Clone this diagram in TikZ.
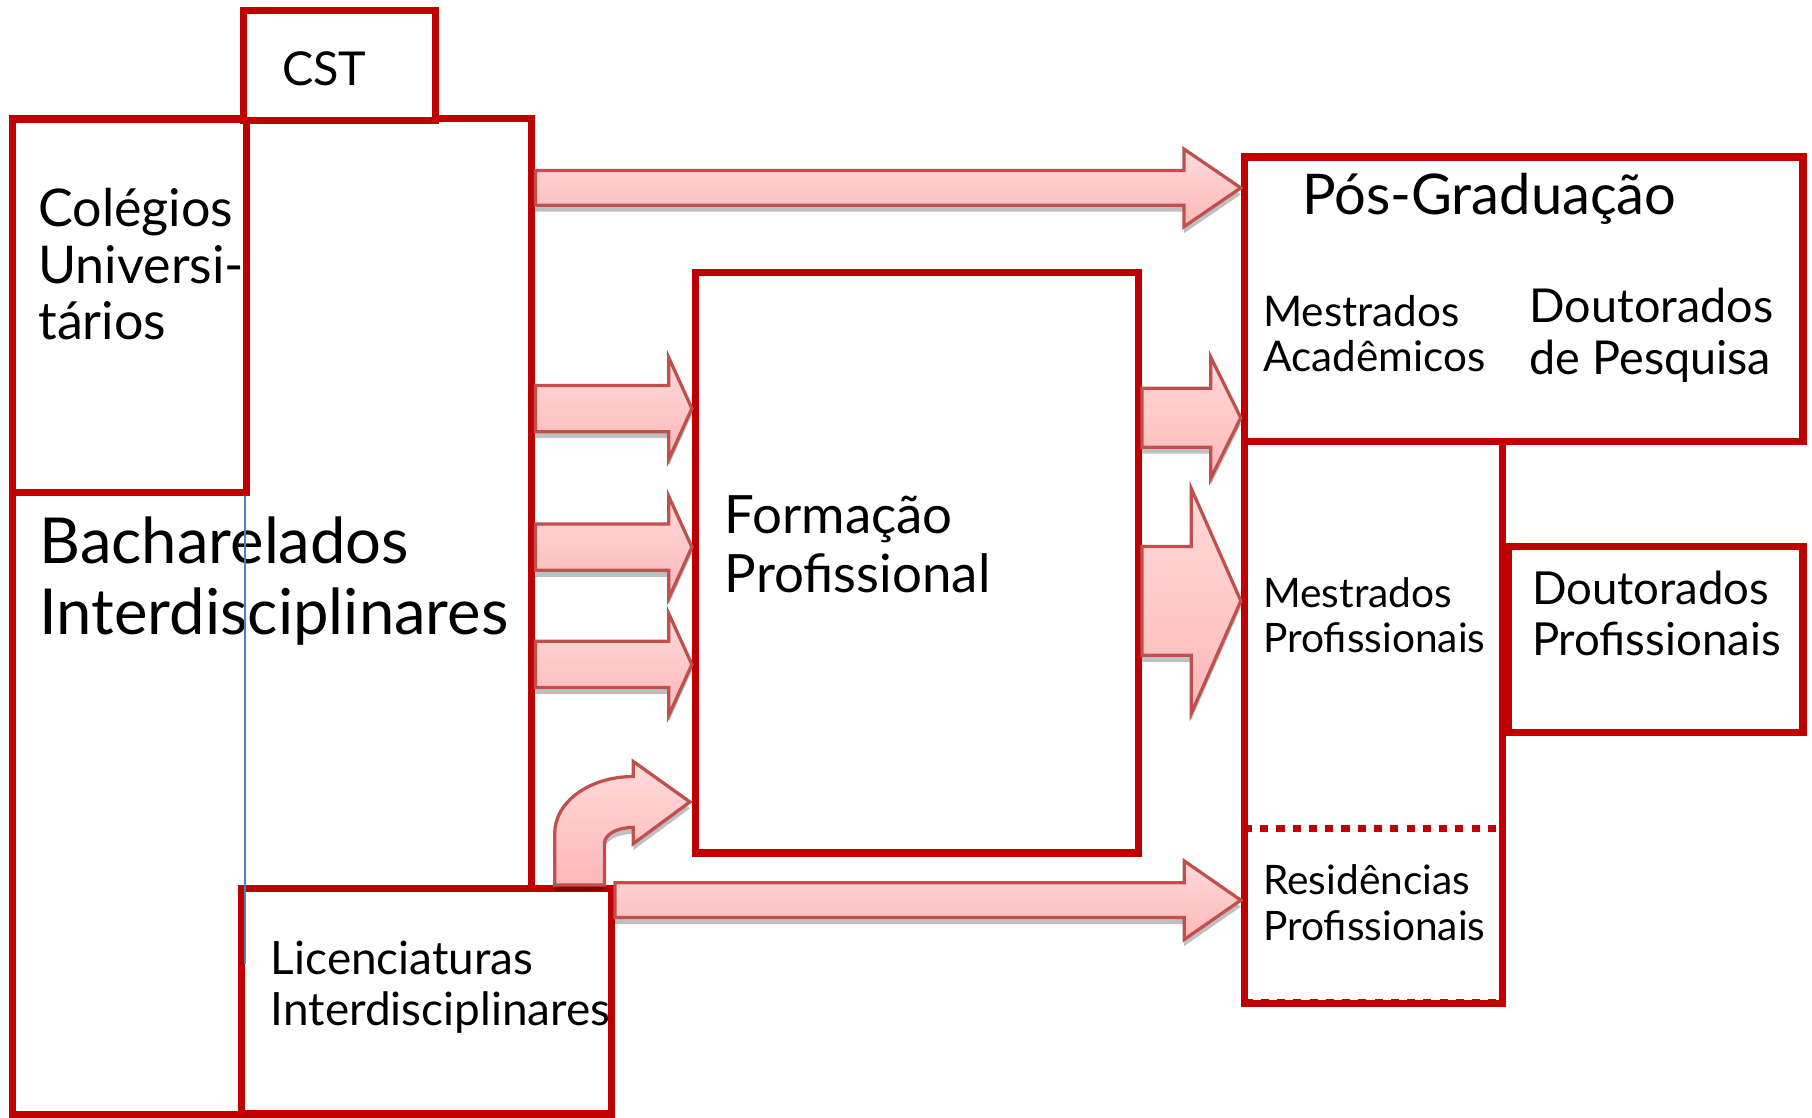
\documentclass[tikz,border=0pt]{standalone}
\usepackage{fontspec}
\setmainfont{Lato}
\usetikzlibrary{calc,shadows}

\definecolor{boxred}{HTML}{C00000}
\definecolor{arrowedge}{HTML}{C0504D}
\definecolor{arrowlight}{HTML}{FFDADA}
\definecolor{arrowdark}{HTML}{FFB7B7}
\definecolor{blueline}{HTML}{4F81BD}

% horizontal block arrow: from, to, shaft half width, head half width, head length
\newcommand{\fatarrow}[5]{%
  \path [fatarrow] let \p1=(#1), \p2=(#2) in
    (\x1,\y1+#3) -- (\x2-#5,\y1+#3) -- (\x2-#5,\y1+#4) -- (\x2,\y1)
    -- (\x2-#5,\y1-#4) -- (\x2-#5,\y1-#3) -- (\x1,\y1-#3) -- cycle ;}

\begin{document}
\begin{tikzpicture}[x=0.01cm,y=-0.01cm]
   \tikzstyle{box}=[draw=boxred,line width=1.8pt,fill=white,inner sep=0pt]
   \tikzstyle{dotbox}=[draw=boxred,line width=1.8pt,dash pattern=on 2pt off 2pt,inner sep=0pt]
   \tikzstyle{txt}=[inner sep=0pt,anchor=base west,align=left]
   \tikzstyle{fatarrow}=[draw=arrowedge,line width=0.8pt,top color=arrowlight,bottom color=arrowdark,
      drop shadow={shadow xshift=0pt,shadow yshift=-1.6pt,opacity=0.25,fill=black}]
   \useasboundingbox [fill=white] (0,0) rectangle (1568,967) ;
   % left column
   \node (bach) [box,minimum width=4.49cm,minimum height=8.61cm] at (235.5,533.5) {} ;
   \node (col) [box,minimum width=2.02cm,minimum height=3.23cm] at (112,264.5) {} ;
   \node (cst) [box,minimum width=1.66cm,minimum height=0.95cm] at (294,56.5) {} ;
   \node (lic) [box,minimum width=3.2cm,minimum height=1.95cm] at (369,866.5) {} ;
   % middle and right
   \node (form) [box,minimum width=3.83cm,minimum height=5.02cm] at (793.5,487) {} ;
   \node (pos) [box,minimum width=4.83cm,minimum height=2.46cm] at (1318.5,259) {} ;
   \node (mp) [box,minimum width=2.23cm,minimum height=4.86cm] at (1188.5,625) {} ;
   \node (res) [dotbox,minimum width=2.23cm,minimum height=1.51cm] at (1188.5,792.5) {} ;
   \node (dp) [box,minimum width=2.55cm,minimum height=1.61cm] at (1432.5,553.5) {} ;
   % texts (placed at the baseline of their last line)
   \node (csttxt) [txt,font=\fontsize{11.5}{14}\selectfont] at (243.6,73.6) {CST} ;
   \node (coltxt) [txt,font=\fontsize{12.8}{13.9}\selectfont] at (32.5,294) {Colégios\\Universi-\\tários} ;
   \node (bachtxt) [txt,font=\fontsize{15.6}{17.4}\selectfont] at (33.5,549) {Bacharelados\\Interdisciplinares} ;
   \node (lictxt) [txt,font=\fontsize{11.3}{12.4}\selectfont] at (233.7,887) {Licenciaturas\\Interdisciplinares} ;
   \node (formtxt) [txt,font=\fontsize{13}{14.5}\selectfont] at (626.5,513) {Formação\\Profissional} ;
   \node (postxt) [txt,font=\fontsize{13.8}{15}\selectfont] at (1126,186) {Pós-Graduação} ;
   \node (matxt) [txt,font=\fontsize{10.4}{11.1}\selectfont] at (1092.5,321.6) {Mestrados\\Acadêmicos} ;
   \node (dptxt) [txt,font=\fontsize{11.5}{12.8}\selectfont] at (1323,324.5) {Doutorados\\de Pesquisa} ;
   \node (mptxt) [txt,font=\fontsize{10}{11.1}\selectfont] at (1092.5,565) {Mestrados\\Profissionais} ;
   \node (dprtxt) [txt,font=\fontsize{11.2}{12.6}\selectfont] at (1325,567) {Doutorados\\Profissionais} ;
   \node (restxt) [txt,font=\fontsize{10}{11.1}\selectfont] at (1092.5,813.5) {Residências\\Profissionais} ;
   % thin blue line
   \coordinate (bluebot) at (212,834) ;
   \draw [blueline,line width=0.5pt] (bluebot |- col.south) -- (bluebot) ;
   % arrows
   \fatarrow{$(bach.north east)+(0,63)$}{pos.west}{0.15cm}{0.335cm}{0.49cm}
   \fatarrow{$(bach.east)+(0,-180)$}{form.west}{0.2cm}{0.44cm}{0.2cm}
   \fatarrow{$(bach.east)+(0,-60)$}{form.west}{0.2cm}{0.44cm}{0.2cm}
   \fatarrow{$(bach.east)+(0,41.5)$}{form.west}{0.2cm}{0.44cm}{0.2cm}
   \fatarrow{$(form.east)+(0,-125.5)$}{pos.west}{0.255cm}{0.525cm}{0.26cm}
   \fatarrow{$(form.east)+(0,33)$}{mp.west}{0.47cm}{0.975cm}{0.43cm}
   \fatarrow{$(lic.east)+(0,-87.5)$}{res.west}{0.15cm}{0.34cm}{0.49cm}
   % bent arrow from lic up into form
   \begin{scope}[shift={(lic.north east)}]
      \path [fatarrow] (-52.2,0) -- (-52.2,-44.8) .. controls (-52.2,-71.8) and (-22.2,-93.8) .. (15.8,-93.8)
         -- (15.8,-106.8) -- (64.8,-71.8) -- (15.8,-35.8) -- (15.8,-49.8)
         .. controls (1.8,-49.8) and (-9.2,-43.8) .. (-9.2,-35.8) -- (-9.2,0) -- cycle ;
   \end{scope}
\end{tikzpicture}
\end{document}
